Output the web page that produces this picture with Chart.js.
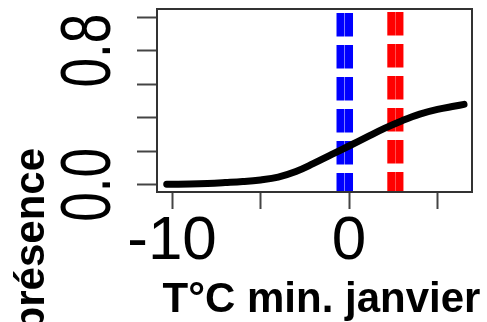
<!DOCTYPE html>
<html>
<head>
<meta charset="utf-8">
<script src="https://cdn.jsdelivr.net/npm/chart.js@4/dist/chart.umd.min.js"></script>
<style>
  html, body { margin: 0; padding: 0; background: #fff; }
  #wrap { width: 487px; height: 322px; }
</style>
</head>
<body>
<div id="wrap"><canvas id="presenceChart" width="487" height="322"></canvas></div>
<script>
// presence probability vs January min temperature
const temperature = [-10.3, -9, -8, -7, -6, -5, -4, -3, -2, -1, 0, 1, 2, 3, 4, 5, 6, 6.5];
const presence = [0.004, 0.006, 0.009, 0.014, 0.02, 0.03, 0.047, 0.08, 0.128, 0.18, 0.232, 0.285, 0.337, 0.383, 0.422, 0.45, 0.47, 0.48];

const blueLines = [-0.48, 0.0];
const redLines = [2.39, 2.85];

const xTicks = [-10, -5, 0, 5];
const xTickLabels = ['-10', '', '0', ''];
const yTicks = [0, 0.2, 0.4, 0.6, 0.8, 1.0];
const yTickLabels = ['0.0', '', '', '', '0.8', ''];

const xRange = [-10.85, 6.95];
const yRange = [-0.042, 1.048];

const FONT = "'Liberation Sans', Arial, Helvetica, sans-serif";

function vline(xv, color, offset) {
    return {
        data: [{ x: xv, y: yRange[1] }, { x: xv, y: yRange[0] }],
        borderColor: color,
        borderWidth: 8,
        borderDash: [23.5, 8.5],
        borderDashOffset: offset,
        borderCapStyle: 'butt',
        pointRadius: 0,
        tension: 0,
        clip: 0
    };
}

const boxPlugin = {
    id: 'boxAndLabels',
    beforeDraw(chart) {
        const ctx = chart.ctx;
        ctx.save();
        ctx.fillStyle = '#fff';
        ctx.fillRect(0, 0, chart.width, chart.height);
        ctx.restore();
    },
    afterDraw(chart) {
        const ctx = chart.ctx;
        const a = chart.chartArea;
        ctx.save();
        ctx.strokeStyle = '#333';
        ctx.lineWidth = 2;
        ctx.strokeRect(a.left, a.top, a.right - a.left, a.bottom - a.top);

        // rotated y tick labels
        const ys = chart.scales.y;
        ctx.fillStyle = '#000';
        ctx.font = '53px ' + FONT;
        ctx.textAlign = 'center';
        ctx.textBaseline = 'alphabetic';
        yTicks.forEach((v, i) => {
            if (!yTickLabels[i]) return;
            ctx.save();
            ctx.translate(110, ys.getPixelForValue(v));
            ctx.rotate(-Math.PI / 2);
            ctx.scale(1, 1.33);
            ctx.fillText(yTickLabels[i], 0, 0);
            ctx.restore();
        });

        // x axis title
        ctx.font = 'bold 42px ' + FONT;
        ctx.textAlign = 'center';
        ctx.fillText('T°C min. janvier', (a.left + a.right) / 2 + 7, 312);

        // y axis title (cut at the bottom edge)
        ctx.textAlign = 'right';
        ctx.translate(44, 148);
        ctx.rotate(-Math.PI / 2);
        ctx.fillText('présence', 0, 0);
        ctx.restore();
    }
};

new Chart(document.getElementById('presenceChart'), {
    type: 'line',
    data: {
        datasets: [
            {
                data: temperature.map((t, i) => ({ x: t, y: presence[i] })),
                borderColor: '#000',
                borderWidth: 7,
                borderCapStyle: 'round',
                borderJoinStyle: 'round',
                tension: 0.4,
                pointRadius: 0
            },
            ...blueLines.map(v => vline(v, '#0000ff', 28)),
            ...redLines.map(v => vline(v, '#ff0000', 29))
        ]
    },
    options: {
        responsive: false,
        animation: false,
        layout: { padding: { top: 9, right: 15, left: 0, bottom: 0 } },
        plugins: {
            legend: { display: false },
            tooltip: { enabled: false }
        },
        scales: {
            x: {
                type: 'linear',
                min: xRange[0],
                max: xRange[1],
                afterBuildTicks: s => { s.ticks = xTicks.map(v => ({ value: v })); },
                afterFit: s => { s.height = 130; },
                grid: { drawOnChartArea: false, drawTicks: true, tickLength: 17, tickColor: '#444', tickWidth: 2 },
                border: { display: false },
                ticks: {
                    autoSkip: false,
                    maxRotation: 0,
                    padding: -4,
                    color: '#000',
                    font: { size: 62, family: FONT },
                    callback: v => xTickLabels[xTicks.indexOf(v)] || ''
                }
            },
            y: {
                type: 'linear',
                min: yRange[0],
                max: yRange[1],
                afterBuildTicks: s => { s.ticks = yTicks.map(v => ({ value: v })); },
                afterFit: s => { s.width = 157; },
                grid: { drawOnChartArea: false, drawTicks: true, tickLength: 20, tickColor: '#444', tickWidth: 2 },
                border: { display: false },
                ticks: { display: false }
            }
        }
    },
    plugins: [boxPlugin]
});
</script>
</body>
</html>
